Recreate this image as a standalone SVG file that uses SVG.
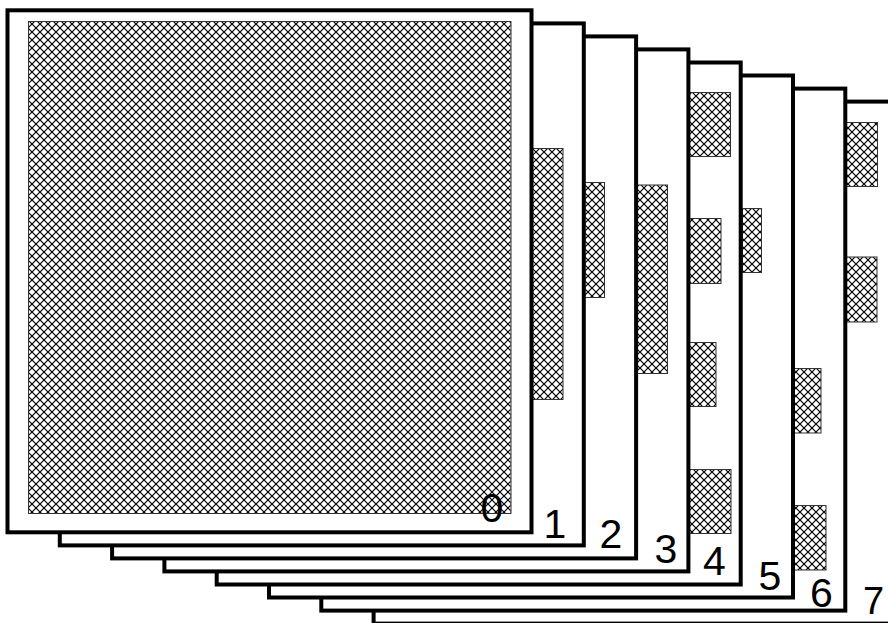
<svg xmlns="http://www.w3.org/2000/svg" width="888" height="623" viewBox="0 0 888 623">
<defs>
<pattern id="hatch" patternUnits="userSpaceOnUse" width="8" height="8">
<path d="M-1,-1 L9,9 M9,-1 L-1,9" stroke="#000" stroke-width="1.2" fill="none"/>
</pattern>
</defs>
<style>
.page{fill:#fff;stroke:#000;stroke-width:4}
.h{fill:url(#hatch);stroke:#333;stroke-width:1}
.lbl{font-family:"Liberation Sans",Arial,sans-serif;font-size:41px;fill:#000;text-anchor:middle}
</style>
<rect width="888" height="623" fill="#fff"/>
<g id="page7">
<rect class="page" x="373.6" y="101.6" width="524" height="522"/>
<rect class="h" x="846.5" y="122.5" width="31" height="64"/>
<rect class="h" x="846.5" y="257" width="30.5" height="65"/>
<text class="lbl" x="873.5" y="614" style="font-size:38px">7</text>
</g>
<g id="page6">
<rect class="page" x="321.3" y="88.6" width="524" height="522"/>
<rect class="h" x="794" y="368.5" width="27" height="64.5"/>
<rect class="h" x="794" y="505.5" width="32" height="64.5"/>
<text class="lbl" x="821.5" y="607">6</text>
</g>
<g id="page5">
<rect class="page" x="269" y="75.5" width="524" height="522"/>
<rect class="h" x="742.5" y="208.5" width="19" height="64"/>
<text class="lbl" x="770" y="590">5</text>
</g>
<g id="page4">
<rect class="page" x="216.7" y="62.5" width="524" height="522"/>
<rect class="h" x="689.5" y="92.5" width="41" height="64"/>
<rect class="h" x="689.5" y="218.5" width="31.5" height="65"/>
<rect class="h" x="689.5" y="342.5" width="26.5" height="64"/>
<rect class="h" x="689.5" y="469.5" width="41.5" height="64"/>
<text class="lbl" x="714.5" y="575">4</text>
</g>
<g id="page3">
<rect class="page" x="164.4" y="49.4" width="524" height="522"/>
<rect class="h" x="637.5" y="185" width="30" height="188.5"/>
<text class="lbl" x="666" y="563">3</text>
</g>
<g id="page2">
<rect class="page" x="112.1" y="36.4" width="524" height="522"/>
<rect class="h" x="584.5" y="182.5" width="20" height="115"/>
<text class="lbl" x="611" y="548">2</text>
</g>
<g id="page1">
<rect class="page" x="59.8" y="23.4" width="524" height="522"/>
<rect class="h" x="532.5" y="148.5" width="30.5" height="251"/>
<text class="lbl" x="555" y="538">1</text>
</g>
<g id="page0">
<rect class="page" x="7.5" y="10.3" width="524" height="522"/>
<rect class="h" x="28.5" y="21.5" width="482.5" height="492"/>
<text class="lbl" x="492" y="522">0</text>
</g>
</svg>
